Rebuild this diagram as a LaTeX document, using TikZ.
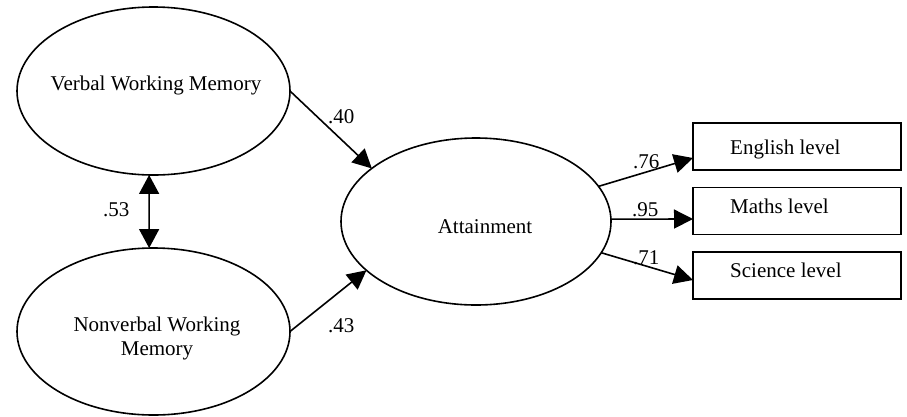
\documentclass[tikz,border=0pt]{standalone}
\usepackage{fontspec}
\setmainfont{Liberation Serif}
\usetikzlibrary{shapes.geometric,arrows.meta}
\begin{document}
\begin{tikzpicture}[x=1pt,y=-1pt,
    latent/.style={draw=black, ellipse, line width=1.6pt, outer sep=0pt},
    manifest/.style={draw=black, rectangle, line width=1.6pt, outer sep=0pt, minimum width=208pt, minimum height=47pt},
    regpath/.style={black, line width=1.6pt, -{Triangle[length=19pt,width=19pt]}},
    covpath/.style={black, line width=1.6pt, {Triangle[length=19pt,width=20pt]}-{Triangle[length=19pt,width=20pt]}}]
    \tikzstyle{every node}+=[inner sep=0pt, font=\fontsize{21}{24}\selectfont]
    \useasboundingbox (0,0) rectangle (907,416);
    \node [latent, minimum width=273pt, minimum height=168pt] (vwm) at (153.5,91) {};
    \node [anchor=base] (vwmtext) at (156,90) {Verbal Working Memory};
    \node [latent, minimum width=273pt, minimum height=167pt] (nvwm) at (153.5,331.5) {};
    \node [align=center] (nvwmtext) at (157,338) {Nonverbal Working\\Memory};
    \node [latent, minimum width=270pt, minimum height=167pt] (att) at (476,221.5) {};
    \node [anchor=base] (atttext) at (485,233) {Attainment};
    \node [manifest] (eng) at (797,146.5) {};
    \node [anchor=base west] (engtext) at (730,154) {English level};
    \node [manifest] (maths) at (797,211) {};
    \node [anchor=base west] (mathstext) at (730,213) {Maths level};
    \node [manifest] (sci) at (797,275.5) {};
    \node [anchor=base west] (scitext) at (730,277) {Science level};
    \draw [covpath] (vwm.267) -- (nvwm.93);
    \draw [regpath] (vwm.east) -- (att.153);
    \draw [regpath] (nvwm.east) -- (att.204);
    \draw [regpath] (att.16) -- ([yshift=-11.5pt]eng.west);
    \draw [regpath] (att.1) -- ([yshift=-8pt]maths.west);
    \draw [regpath] (att.-14) -- ([yshift=-4.5pt]sci.west);
    \node [anchor=base west] (c53) at (103,216) {.53};
    \node [anchor=base west] (c40) at (328,123) {.40};
    \node [anchor=base west] (c43) at (328,332) {.43};
    \node [anchor=base west] (c76) at (633,168) {.76};
    \node [anchor=base west] (c95) at (632,216) {.95};
    \node [anchor=base west] (c71) at (633,264) {.71};
\end{tikzpicture}
\end{document}
